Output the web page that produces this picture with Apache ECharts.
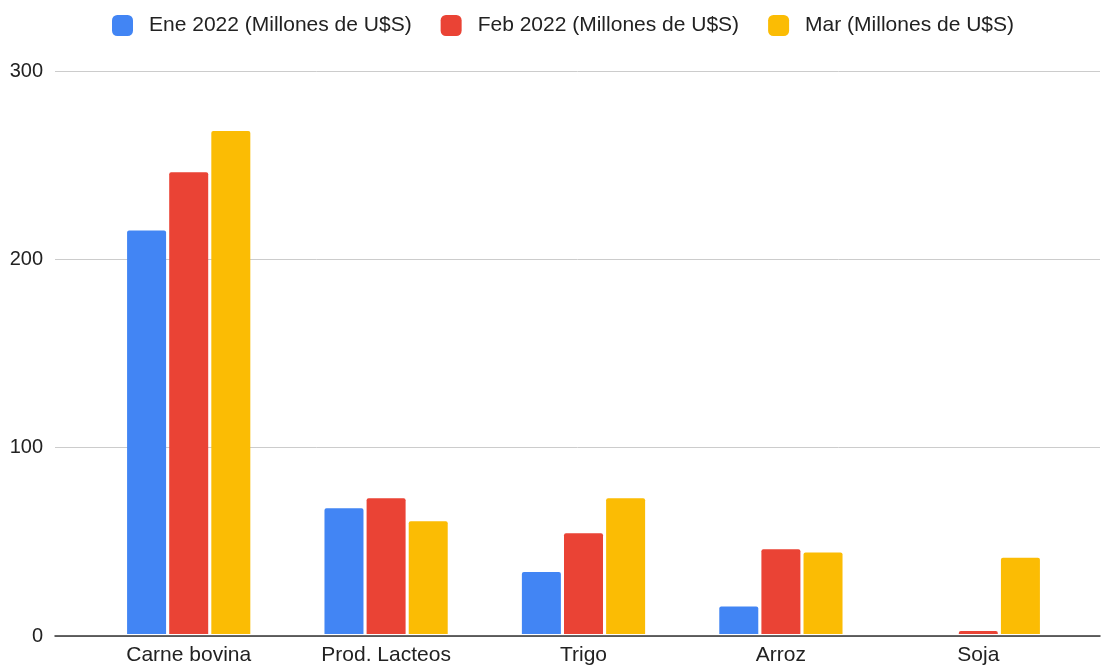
<!DOCTYPE html>
<html>
<head>
<meta charset="utf-8">
<script src="https://cdn.jsdelivr.net/npm/echarts@6/dist/echarts.min.js"></script>
<style>
  html, body { margin: 0; padding: 0; background: #fff; }
  #chart { width: 1101px; height: 666px; }
</style>
</head>
<body>
<div id="chart"></div>
<script>
const categories = ['Carne bovina', 'Prod. Lacteos', 'Trigo', 'Arroz', 'Soja'];
const seriesNames = ['Ene 2022 (Millones de U$S)', 'Feb 2022 (Millones de U$S)', 'Mar (Millones de U$S)'];
const ene = [215, 67, 33, 14.7, 0];
const feb = [246, 72.3, 53.7, 45.2, 1.6];
const mar = [268, 60.1, 72.3, 43.4, 40.6];
const yTicks = [0, 100, 200, 300];

const colors = ['#4285F4', '#EA4335', '#FBBC04'];
const font = 'Arial, "Liberation Sans", sans-serif';

const chart = echarts.init(document.getElementById('chart'), null, { renderer: 'canvas' });

function barSeries(name, data, i) {
  return {
    name: name,
    type: 'bar',
    xAxisIndex: 1,
    yAxisIndex: 1,
    data: data,
    barWidth: 39,
    barGap: '8%',
    itemStyle: { color: colors[i], borderRadius: [2, 2, 0, 0] },
    emphasis: { disabled: true }
  };
}

chart.setOption({
  animation: false,
  color: colors,
  textStyle: { fontFamily: font },
  legend: {
    top: 10,
    left: 107,
    itemWidth: 21,
    itemHeight: 21,
    itemGap: 29,
    icon: 'roundRect',
    textStyle: { fontSize: 21, color: '#222', padding: [0, 0, 0, 11], fontFamily: font },
    data: seriesNames
  },
  grid: [
    // wide grid: gridlines + y labels
    { left: 55, right: 1, top: 71, bottom: 30 },
    // narrower grid for the bars
    { left: 90, right: 24, top: 71, bottom: 30 }
  ],
  xAxis: [
    {
      type: 'category', gridIndex: 0, data: categories,
      axisLine: { show: true, lineStyle: { color: '#333', width: 1.5 } },
      axisTick: { show: false }, axisLabel: { show: false }
    },
    {
      type: 'category', gridIndex: 1, data: categories,
      axisLine: { show: false }, axisTick: { show: false },
      axisLabel: { fontSize: 21, color: '#222', margin: 11, fontFamily: font }
    }
  ],
  yAxis: [
    {
      type: 'value', gridIndex: 0, min: yTicks[0], max: yTicks[yTicks.length - 1], interval: 100,
      axisLine: { show: false }, axisTick: { show: false },
      axisLabel: { fontSize: 20, color: '#222', margin: 12, fontFamily: font },
      splitLine: { lineStyle: { color: '#ccc', width: 1 } }
    },
    {
      type: 'value', gridIndex: 1, min: 0, max: 300, interval: 100, show: false,
      splitLine: { show: false }
    }
  ],
  series: [
    barSeries(seriesNames[0], ene, 0),
    barSeries(seriesNames[1], feb, 1),
    barSeries(seriesNames[2], mar, 2)
  ]
});
</script>
</body>
</html>
